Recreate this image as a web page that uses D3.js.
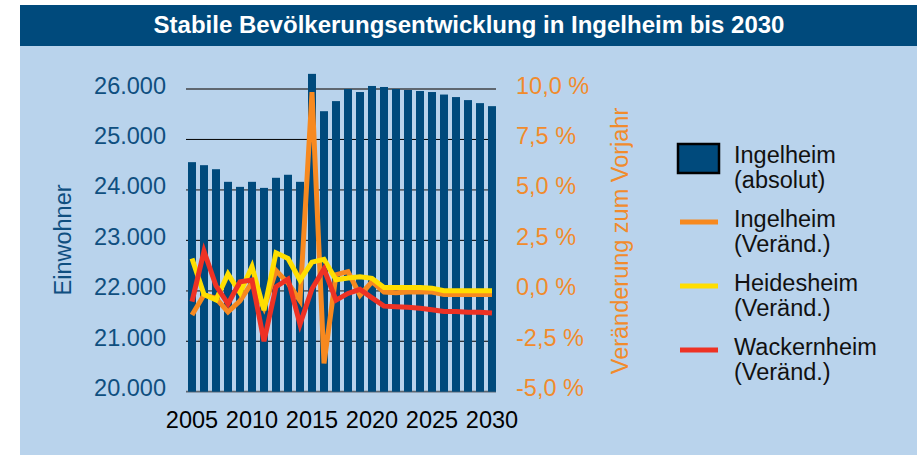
<!DOCTYPE html>
<html>
<head>
<meta charset="utf-8">
<script src="https://cdn.jsdelivr.net/npm/d3@7"></script>
<style>
    body { margin: 0; background: #fff; }
    text { font-family: "Liberation Sans", Arial, Helvetica, sans-serif; }
</style>
</head>
<body>
<div id="chart"></div>
<script>
// Ingelheim: Einwohner (Balken) und Veränderung zum Vorjahr (Linien)

const years = [2005, 2006, 2007, 2008, 2009, 2010, 2011, 2012, 2013, 2014, 2015, 2016, 2017,
    2018, 2019, 2020, 2021, 2022, 2023, 2024, 2025, 2026, 2027, 2028, 2029, 2030];

const ingelheimAbs = [24550, 24490, 24410, 24160, 24060, 24160, 24040, 24240, 24300, 24160, 26300, 25560, 25760,
    26000, 25940, 26060, 26040, 26000, 25980, 25960, 25940, 25890, 25840, 25780, 25720, 25660];

const ingelheimChg = [-1.2, -0.2, -0.37, -1.05, -0.5, 0.42, -0.85, 1.0, 0.38, -0.48, 9.85, -3.6, 0.8,
    0.95, -0.22, 0.45, -0.06, -0.1, -0.06, -0.06, -0.06, -0.18, -0.18, -0.18, -0.18, -0.18];

const heidesheimChg = [1.6, -0.18, -0.45, 0.84, -0.1, 1.2, -0.96, 1.88, 1.6, 0.53, 1.42, 1.56, 0.55,
    0.63, 0.69, 0.62, 0.16, 0.16, 0.16, 0.16, 0.13, 0.0, 0.0, 0.0, 0.0, 0.0];

const wackernheimChg = [-0.54, 1.96, 0.25, -0.65, 0.45, 0.53, -2.5, 0.2, 0.58, -1.66, 0.1, 1.08, -0.46,
    -0.13, 0.07, -0.35, -0.76, -0.79, -0.82, -0.87, -0.94, -1.03, -1.03, -1.06, -1.06, -1.1];

const leftTicks = [20000, 21000, 22000, 23000, 24000, 25000, 26000];
const rightTicks = [-5, -2.5, 0, 2.5, 5, 7.5, 10];
const xLabelYears = [2005, 2010, 2015, 2020, 2025, 2030];

const title = "Stabile Bevölkerungsentwicklung in Ingelheim bis 2030";
const leftTitle = "Einwohner";
const rightTitle = "Veränderung zum Vorjahr";

const legendItems = [
    ["Ingelheim", "(absolut)"],
    ["Ingelheim", "(Veränd.)"],
    ["Heidesheim", "(Veränd.)"],
    ["Wackernheim", "(Veränd.)"]
];

const darkBlue = "#004a7c";
const panelBlue = "#b9d3ec";
const lineColors = ["#f7891f", "#ffde00", "#ee3224"];

const de = d3.formatLocale({ decimal: ",", thousands: ".", grouping: [3], currency: ["", " €"], minus: "-" });

function drawChart() {
    const W = 919, H = 457;
    const plotTop = 89, plotBottom = 391.7, plotLeft = 186, plotRight = 496;

    let svg = d3.select("#chart").
    append("svg").
    attr("width", W).
    attr("height", H);

    // panel + banner
    svg.append("rect").
    attr("x", 20).attr("y", 46).
    attr("width", 897).attr("height", 409).
    attr("fill", panelBlue);

    svg.append("rect").
    attr("x", 20).attr("y", 5).
    attr("width", 897).attr("height", 41).
    attr("fill", darkBlue);

    svg.append("text").
    attr("x", 469).attr("y", 33).
    attr("text-anchor", "middle").
    attr("fill", "#fff").
    style("font-size", "24px").
    style("font-weight", "bold").
    text(title);

    let x = d3.scaleBand().
    domain(years).
    range([plotLeft, 498]).
    paddingInner(1 / 3).
    paddingOuter(1 / 6);

    let yLeft = d3.scaleLinear().
    domain([20000, 26000]).
    range([plotBottom, plotTop]);

    let yRight = d3.scaleLinear().
    domain([-5, 10]).
    range([plotBottom, plotTop]);

    // grid
    svg.append("g").
    selectAll("line").
    data(leftTicks).
    enter().
    append("line").
    attr("x1", plotLeft).
    attr("x2", plotRight).
    attr("y1", d => yLeft(d)).
    attr("y2", d => yLeft(d)).
    attr("stroke", d => d % 2000 === 0 ? "#5f6770" : "#000").
    attr("stroke-width", d => d % 2000 === 0 ? 1.8 : 1);

    // bars
    svg.append("g").
    selectAll("rect").
    data(years).
    enter().
    append("rect").
    attr("x", d => x(d)).
    attr("y", (d, i) => yLeft(ingelheimAbs[i])).
    attr("width", x.bandwidth()).
    attr("height", (d, i) => plotBottom - yLeft(ingelheimAbs[i])).
    attr("fill", darkBlue);

    // lines
    let line = d3.line().
    x((d, i) => x(years[i]) + x.bandwidth() / 2).
    y(d => yRight(d));

    [ingelheimChg, heidesheimChg, wackernheimChg].forEach((series, k) => {
        svg.append("path").
        datum(series).
        attr("d", line).
        attr("fill", "none").
        attr("stroke", lineColors[k]).
        attr("stroke-width", 5).
        attr("stroke-linejoin", "miter");
    });

    // left axis
    let axL = svg.append("g").
    attr("transform", "translate(166,0)").
    call(d3.axisLeft(yLeft).
    tickValues(leftTicks).
    tickSize(0).
    tickPadding(0).
    tickFormat(de.format(",")));
    axL.select(".domain").remove();
    axL.selectAll("text").
    attr("dy", "0.17em").
    attr("fill", "#0f4f80").
    style("font-size", "23.5px").
    style("font-family", "'Liberation Sans', Arial, sans-serif");

    // right axis
    let axR = svg.append("g").
    attr("transform", "translate(516,0)").
    call(d3.axisRight(yRight).
    tickValues(rightTicks).
    tickSize(0).
    tickPadding(0).
    tickFormat(d => de.format(".1f")(d) + " %"));
    axR.select(".domain").remove();
    axR.selectAll("text").
    attr("dy", "0.17em").
    attr("fill", "#f18b2c").
    style("font-size", "23.5px").
    style("font-family", "'Liberation Sans', Arial, sans-serif");

    // x labels
    svg.append("g").
    selectAll("text").
    data(xLabelYears).
    enter().
    append("text").
    attr("x", d => x(d) + x.bandwidth() / 2).
    attr("y", 428).
    attr("text-anchor", "middle").
    attr("fill", "#000").
    style("font-size", "23.5px").
    text(d => d);

    // axis titles
    svg.append("text").
    attr("transform", "translate(70.5,240) rotate(-90)").
    attr("text-anchor", "middle").
    attr("fill", "#0f4f80").
    style("font-size", "23.5px").
    text(leftTitle);

    svg.append("text").
    attr("transform", "translate(627.5,241) rotate(-90)").
    attr("text-anchor", "middle").
    attr("fill", "#f18b2c").
    style("font-size", "23.5px").
    text(rightTitle);

    // legend
    let legend = svg.selectAll(".legend").
    data(legendItems).
    enter().
    append("g").
    attr("class", "legend").
    attr("transform", (d, i) => "translate(0," + (i * 64) + ")");

    legend.each(function (d, i) {
        let g = d3.select(this);
        if (i === 0) {
            g.append("rect").
            attr("x", 678).attr("y", 144).
            attr("width", 41).attr("height", 29).
            attr("fill", darkBlue).
            attr("stroke", "#000").
            attr("stroke-width", 2.5);
        } else {
            g.append("line").
            attr("x1", 680).attr("x2", 718).
            attr("y1", 158).attr("y2", 158).
            attr("stroke", lineColors[i - 1]).
            attr("stroke-width", 5);
        }
    });

    legend.append("text").
    attr("x", 734).
    attr("y", 163).
    attr("fill", "#111").
    style("font-size", "23.5px").
    text(d => d[0]);

    legend.append("text").
    attr("x", 734).
    attr("y", 188).
    attr("fill", "#111").
    style("font-size", "23.5px").
    text(d => d[1]);
}

drawChart();
</script>
</body>
</html>
